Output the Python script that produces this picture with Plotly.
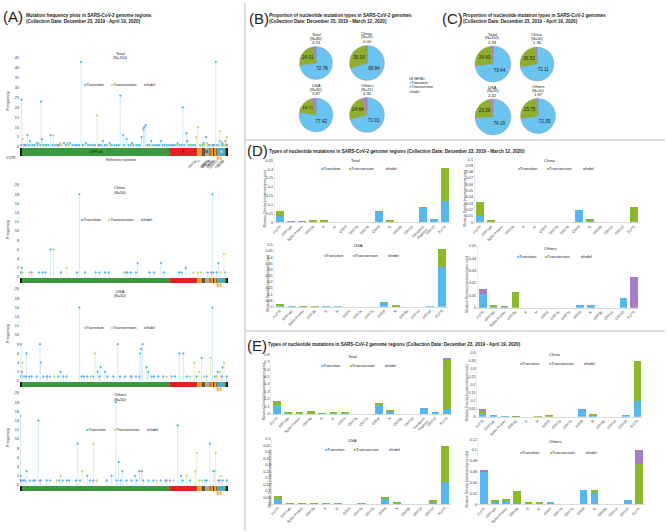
import plotly.graph_objects as go

W, H = 667, 532
FONT = "Liberation Sans, Arial, Helvetica, sans-serif"

# ====================== DATA ======================
mut_types = ["Transition", "Transversion", "Indel"]

genome_len = 29903
gene_names = ["5'UTR", "ORF1ab", "S", "ORF3a", "E", "M", "ORF6", "ORF7a", "ORF7b", "ORF8", "N", "ORF10", "3'UTR"]
gene_starts = [1, 266, 21563, 25393, 26245, 26523, 27202, 27394, 27756, 27894, 28274, 29558, 29675]
gene_ends = [265, 21555, 25384, 26220, 26472, 27191, 27387, 27759, 27887, 28259, 29533, 29674, 29903]
nested_names = ["ORF9b", "ORF14"]
nested_starts = [28284, 28734]
nested_ends = [28577, 28955]
small_gene_labels = ["ORF3a", "E", "ORF6", "ORF7a", "ORF7b", "ORF8", "ORF9b", "ORF14", "ORF10", "3'UTR"]

# Panel A: (genome position, frequency)
A_names = ["Total", "China", "USA", "Others"]
A_N = [150, 50, 50, 50]

A_total_ts = [(241, 24), (1059, 6), (1440, 3), (3037, 23), (3140, 4), (4402, 6), (8782, 43), (11916, 3),
              (14408, 26), (14805, 6), (15324, 4), (17470, 5), (17747, 9), (17858, 10), (18060, 11),
              (18877, 3), (20268, 3), (23403, 20), (23929, 7), (24034, 3), (26729, 5), (28144, 43),
              (28688, 3), (29095, 2), (29540, 3), (2416, 2), (6312, 2), (7200, 2), (9477, 2), (12880, 2),
              (22661, 2), (26400, 2), (16100, 2), (180, 1), (490, 1), (700, 1), (850, 1), (1300, 1),
              (1820, 1), (2100, 1), (2580, 1), (2900, 1), (3330, 1), (3600, 1), (3800, 1), (4100, 1),
              (4650, 1), (5000, 1), (5380, 1), (5600, 1), (5900, 1), (6600, 1), (6900, 1), (7540, 1),
              (7900, 1), (8200, 1), (8500, 1), (9000, 1), (9800, 1), (10100, 1), (10500, 1), (10800, 1),
              (11400, 1), (11700, 1), (12200, 1), (12500, 1), (13200, 1), (13600, 1), (13900, 1),
              (14200, 1), (15000, 1), (15600, 1), (15900, 1), (16300, 1), (16700, 1), (17000, 1),
              (17200, 1), (18300, 1), (18600, 1), (19100, 1), (19400, 1), (19700, 1), (20000, 1),
              (20500, 1), (20800, 1), (21100, 1), (21400, 1), (21700, 1), (22000, 1), (22300, 1),
              (22900, 1), (23200, 1), (23600, 1), (24300, 1), (24600, 1), (24900, 1), (25200, 1),
              (25900, 1), (26300, 1), (27000, 1), (27300, 1), (27600, 1), (27900, 1), (28300, 1),
              (28500, 1), (28900, 1), (29200, 1), (29650, 1)]
A_total_tv = [(386, 4), (4800, 6), (11083, 16), (25563, 10), (25350, 5), (28750, 8), (28850, 3), (29717, 5),
              (2700, 2), (5800, 2), (6800, 2), (26900, 2), (600, 1), (1600, 1), (3500, 1), (5200, 1),
              (7000, 1), (9300, 1), (10300, 1), (13000, 1), (16000, 1), (19000, 1), (21200, 1),
              (22500, 1), (24500, 1), (26000, 1), (26500, 1), (27500, 1), (28400, 1), (29300, 1)]
A_total_in = [(700, 1), (5500, 1), (11288, 1), (21990, 1), (27848, 1), (29750, 1)]

A_china_ts = [(241, 2), (4402, 6), (8531, 18), (16920, 3), (20280, 3), (23830, 2), (27656, 18), (28520, 3),
              (100, 1), (2732, 1), (3211, 1), (3642, 1), (5895, 1), (8196, 1), (9346, 1), (10880, 1),
              (11407, 1), (12222, 1), (12749, 1), (15193, 1), (15480, 1), (15960, 1), (16678, 1),
              (18596, 1), (19267, 1), (20705, 1), (22862, 1), (23246, 1), (26984, 1), (27799, 1),
              (28278, 1), (29476, 1)]
A_china_tv = [(4800, 6), (6710, 2), (29330, 5), (1342, 1), (24923, 1), (25546, 1), (26025, 1), (28853, 1),
              (14954, 1), (383, 1)]
A_china_in = [(1677, 1), (27500, 1)]

A_usa_ts = [(144, 8), (959, 6), (2876, 8), (2972, 4), (5847, 2), (8531, 16), (11168, 2), (11599, 3),
            (12222, 2), (14043, 8), (17255, 6), (17398, 7), (17638, 8), (18213, 3), (18453, 2), (22911, 6),
            (23486, 6), (26122, 5), (27656, 16), (28422, 2), (29141, 3), (100, 1), (575, 1), (863, 1),
            (1342, 1), (1678, 1), (2397, 1), (3355, 1), (3834, 1), (4314, 1), (5512, 1), (6231, 1),
            (6710, 1), (8867, 1), (9203, 1), (9682, 1), (10545, 1), (11407, 1), (12558, 1), (13420, 1),
            (14379, 1), (15098, 1), (15961, 1), (16680, 1), (17159, 1), (18932, 1), (19268, 1),
            (19891, 1), (20610, 1), (21808, 1), (22287, 1), (23965, 1), (25403, 1), (26841, 1),
            (28039, 1), (29716, 1)]
A_usa_tv = [(383, 4), (10784, 6), (25067, 4), (25738, 2), (27416, 5), (28758, 2), (29333, 4), (4937, 1),
            (10161, 1), (21089, 1), (24444, 1), (26457, 1), (28278, 1)]
A_usa_in = [(240, 2), (3900, 1), (16000, 1), (29000, 1)]

A_others_ts = [(50, 15), (100, 2), (959, 3), (2636, 14), (8292, 9), (9682, 2), (13181, 2), (13804, 18),
               (14187, 5), (14715, 3), (16536, 2), (17159, 3), (17494, 3), (22671, 13), (23150, 2),
               (27320, 9), (27799, 3), (28039, 3), (240, 1), (479, 1), (719, 1), (1438, 1), (1917, 1),
               (2157, 1), (2972, 1), (3834, 1), (4314, 1), (5656, 1), (6135, 1), (6710, 1), (7094, 1),
               (8052, 1), (8627, 1), (10065, 1), (12462, 1), (13900, 1), (14475, 1), (15338, 1),
               (16057, 1), (16776, 1), (17734, 1), (18453, 1), (19172, 1), (20226, 1), (21089, 1),
               (23390, 1), (24444, 1), (26601, 1), (26841, 1), (28758, 1), (29141, 1), (29716, 1)]
A_others_tv = [(5847, 2), (8963, 3), (10545, 9), (23965, 2), (25163, 3), (25403, 7), (28135, 7), (28902, 2),
               (5272, 1), (11024, 1), (19651, 1), (22048, 1), (25786, 1), (26122, 1)]
A_others_in = [(60, 1), (2876, 1), (10545, 1), (20945, 1), (21569, 1), (28518, 1)]

# Panels B and C: percentages (Transition, Transversion, Indel)
pie_names = ["Total", "China", "USA", "Others"]
B_N = [80, 26, 30, 21]
B_total = [72.76, 24.01, 3.23]
B_china = [69.84, 30.16, 0.00]
B_usa = [77.42, 18.71, 3.87]
B_others = [71.01, 24.64, 4.35]
C_N = [150, 50, 50, 50]
C_total = [73.44, 24.63, 1.93]
C_china = [72.11, 26.53, 1.36]
C_usa = [74.19, 23.39, 2.42]
C_others = [72.39, 25.75, 1.87]

# Panels D and E: mutation density per genome region
cats16 = ["5'UTR", "ORF1ab", "Spike Protein", "ORF3a", "E", "M", "ORF6", "ORF7a", "ORF7b", "ORF8", "N",
          "ORF9b", "ORF14", "Intergenic<br>Regions", "ORF10", "3'UTR"]
cats15 = ["5'UTR", "ORF1ab", "Spike Protein", "ORF3a", "E", "M", "ORF6", "ORF7a", "ORF7b", "ORF8", "N",
          "ORF9b", "ORF14", "ORF10", "3'UTR"]

D_total_ts = [0.038, 0.005, 0.004, 0.004, 0.010, 0.003, 0, 0, 0, 0.063, 0.010, 0, 0, 0.085, 0.018, 0.120]
D_total_tv = [0.026, 0.001, 0.001, 0.008, 0.002, 0, 0, 0, 0, 0.002, 0.004, 0, 0, 0.002, 0, 0.190]
D_total_in = [0, 0, 0, 0, 0, 0, 0, 0, 0, 0, 0, 0, 0, 0, 0, 0]
D_china_ts = [0.010, 0.001, 0, 0, 0, 0, 0, 0, 0, 0.020, 0.003, 0, 0, 0, 0]
D_china_tv = [0.023, 0.001, 0, 0, 0, 0, 0, 0, 0, 0, 0.001, 0, 0, 0, 0.025]
D_china_in = [0, 0, 0, 0, 0, 0, 0, 0, 0, 0, 0, 0, 0, 0, 0]
D_usa_ts = [0.010, 0.003, 0.002, 0, 0.004, 0.002, 0, 0, 0, 0.030, 0.005, 0, 0, 0.004, 0.320]
D_usa_tv = [0.004, 0, 0.001, 0.003, 0, 0, 0, 0, 0, 0.006, 0.002, 0, 0, 0, 0.150]
D_usa_in = [0, 0, 0, 0, 0, 0, 0, 0, 0, 0, 0, 0, 0, 0, 0]
D_others_ts = [0.011, 0.0012, 0.0006, 0, 0, 0, 0, 0, 0, 0.0025, 0.0022, 0, 0, 0.008, 0]
D_others_tv = [0, 0.0006, 0.0004, 0.013, 0, 0, 0, 0, 0, 0, 0, 0, 0, 0, 0]
D_others_in = [0.004, 0, 0, 0, 0, 0, 0, 0, 0, 0, 0, 0, 0, 0, 0.025]

E_total_ts = [0.120, 0.012, 0.013, 0.005, 0.008, 0.015, 0.012, 0, 0, 0.120, 0.025, 0, 0, 0.075, 0.015, 0.070]
E_total_tv = [0.040, 0.003, 0.002, 0.030, 0, 0.002, 0.002, 0, 0, 0.015, 0.015, 0, 0, 0, 0, 0.650]
E_total_in = [0.010, 0, 0, 0, 0, 0, 0, 0, 0, 0, 0, 0, 0, 0, 0, 0.030]
E_china_ts = [0.015, 0.003, 0.002, 0.001, 0, 0, 0, 0, 0, 0.050, 0.008, 0, 0, 0.010, 0.100]
E_china_tv = [0.020, 0, 0, 0.001, 0, 0.002, 0.005, 0, 0, 0, 0.002, 0, 0, 0, 0.245]
E_china_in = [0.005, 0, 0, 0, 0, 0, 0, 0, 0, 0, 0, 0, 0, 0, 0]
E_usa_ts = [0.040, 0.005, 0.003, 0, 0.004, 0.006, 0, 0.002, 0, 0.045, 0.008, 0, 0, 0.010, 0.170]
E_usa_tv = [0.020, 0.001, 0.001, 0.005, 0, 0, 0, 0, 0, 0.012, 0.002, 0, 0, 0.020, 0.280]
E_usa_in = [0, 0, 0, 0, 0, 0, 0, 0, 0, 0, 0, 0, 0, 0, 0]
E_others_ts = [0.059, 0.005, 0.006, 0.002, 0, 0.002, 0.004, 0, 0, 0.026, 0.020, 0, 0, 0.008, 0]
E_others_tv = [0, 0.002, 0.003, 0.023, 0.003, 0.001, 0, 0, 0, 0, 0.007, 0, 0, 0, 0.075]
E_others_in = [0.004, 0, 0, 0, 0, 0, 0, 0, 0, 0, 0, 0, 0, 0, 0.025]

# ====================== STYLE ======================
C_TS, C_TS_STEM = "#4fb5ee", "#cfe7f8"
C_TV, C_TV_STEM = "#c3d46c", "#e6edc6"
C_IN, C_IN_STEM = "#a58ad8", "#e0d6f3"
BAR_C = ["#56b7ee", "#8db72d", "#a77dc5"]
PIE_C = ["#6bc3f0", "#8eaf2e", "#b47dc6"]
gene_colors = {"5'UTR": "#111111", "ORF1ab": "#3b9a3f", "S": "#e41f26", "ORF3a": "#f7941d",
               "E": "#555555", "M": "#a9a994", "ORF6": "#f7941d", "ORF7a": "#f7941d", "ORF7b": "#3a3a3a",
               "ORF8": "#f7941d", "N": "#4bacc6", "ORF10": "#f7941d", "3'UTR": "#111111"}

# ====================== BUILD ======================
fig = go.Figure()
annotations, shapes = [], []
layout = dict(width=W, height=H, margin=dict(l=0, r=0, t=0, b=0, pad=0), autosize=False,
              paper_bgcolor="white", plot_bgcolor="white", showlegend=False,
              font=dict(family=FONT, size=4, color="#333333"), barmode="stack", bargap=0.32)


def px_x(px):
    return px / W


def px_y(py):
    return 1 - py / H


def ann(x, y, text, size=4.2, color="#222222", xanchor="center", yanchor="middle", bold=False,
        angle=0, xref="paper", align="center"):
    annotations.append(dict(
        x=px_x(x) if xref == "paper" else x, y=px_y(y), xref=xref, yref="paper",
        text=("<b>%s</b>" % text) if bold else text, showarrow=False, align=align,
        font=dict(size=size, color=color, family=FONT), xanchor=xanchor, yanchor=yanchor,
        textangle=angle, borderpad=0))


def legend_row(y, xs, size=4.0, sym="■", colors=(C_TS, C_TV, C_IN)):
    for x, lab, col in zip(xs, mut_types, colors):
        ann(x, y, "<span style='color:%s'>%s</span>%s" % (col, sym, lab), size=size, xanchor="left")


def line(x0, y0, x1, y1, color="#d3d3d3", width=1.5):
    shapes.append(dict(type="line", xref="paper", yref="paper", x0=px_x(x0), y0=px_y(y0),
                       x1=px_x(x1), y1=px_y(y1), line=dict(color=color, width=width)))


def ax_names(k):
    return ("xaxis" if k == 1 else "xaxis%d" % k, "yaxis" if k == 1 else "yaxis%d" % k,
            "x" if k == 1 else "x%d" % k, "y" if k == 1 else "y%d" % k)


# ---------- Panel A : stem plots ----------
def stem_panel(k, name, n, ts, tv, ind, y0, yref_px, yref_val, ymax, dtick, bar_h, title_y, leg_y,
               leg_xs, full_labels):
    xa, ya, xr, yr = ax_names(k)
    ppu = (y0 - yref_px) / yref_val
    x0, x1 = 20, 228
    ytop = y0 - ymax * ppu
    layout[xa] = dict(domain=[px_x(x0), px_x(x1)], range=[0, genome_len], anchor=yr, showgrid=False,
                      zeroline=False, showticklabels=False, showline=False, ticks="", automargin=False)
    layout[ya] = dict(domain=[px_y(y0 + 1), px_y(ytop)], range=[-1 / ppu, ymax], anchor=xr,
                      showgrid=False, zeroline=False, dtick=dtick, tick0=0, showline=False, ticks="",
                      automargin=False, tickfont=dict(size=3.8, color="#333"))
    ann(8, (y0 + ytop) / 2, "Frequency", size=4, color="#333", angle=-90)
    for pts, col, stem in ((ts, C_TS, C_TS_STEM), (tv, C_TV, C_TV_STEM), (ind, C_IN, C_IN_STEM)):
        xs = [p for p, f in pts]
        fs = [f for p, f in pts]
        fig.add_trace(go.Scatter(
            x=xs, y=fs, mode="markers", xaxis=xr, yaxis=yr, hoverinfo="x+y",
            marker=dict(color=col, size=2.1, symbol="diamond"),
            error_y=dict(type="data", symmetric=False, array=[0] * len(fs), arrayminus=fs,
                         width=0, thickness=0.9, color=stem)))
    # genome bar
    top = y0 + 1
    shapes.append(dict(type="rect", xref=xr, yref="paper", x0=0, x1=genome_len, y0=px_y(top + bar_h),
                       y1=px_y(top), fillcolor="#111111", line=dict(width=0), layer="above"))
    for g, s, e in zip(gene_names, gene_starts, gene_ends):
        shapes.append(dict(type="rect", xref=xr, yref="paper", x0=s, x1=e, y0=px_y(top + bar_h),
                           y1=px_y(top), fillcolor=gene_colors[g], line=dict(width=0), layer="above"))
    for g, s, e in zip(nested_names, nested_starts, nested_ends):
        shapes.append(dict(type="rect", xref=xr, yref="paper", x0=s, x1=e, y0=px_y(top + bar_h + 4),
                           y1=px_y(top + bar_h), fillcolor="#f7941d", line=dict(color="#ffffff", width=0.3),
                           layer="above"))
    ann(120, title_y, name, size=4.2)
    ann(120, title_y + 5, "(N=%d)" % n, size=3.8)
    legend_row(leg_y, leg_xs, size=4.0)
    if full_labels:
        mid = lambda g: (gene_starts[gene_names.index(g)] + gene_ends[gene_names.index(g)]) / 2
        ann(mid("ORF1ab"), top + bar_h / 2, "ORF1ab", size=3.6, color="#111", xref=xr)
        ann(mid("S"), top + bar_h / 2, "S", size=3.6, color="#111", xref=xr)
        ann(mid("M"), top + bar_h / 2, "M", size=3.6, color="#111", xref=xr)
        ann(mid("N"), top + bar_h / 2, "N", size=3.6, color="#fff", xref=xr)
        ann(11, top + bar_h + 2.5, "5'UTR", size=3.4)
        ann(121, top + bar_h + 4, "Reference position", size=3.6)
        for g in small_gene_labels:
            if g in gene_names:
                i = gene_names.index(g)
                c = (gene_starts[i] + gene_ends[i]) / 2
            else:
                i = nested_names.index(g)
                c = (nested_starts[i] + nested_ends[i]) / 2
            ann(c, top + bar_h + 1.5, g, size=3.3, color="#333", xref=xr, xanchor="right",
                yanchor="top", angle=-45)


stem_panel(1, "Total", A_N[0], A_total_ts, A_total_tv, A_total_in, 147, 58, 45, 46, 5, 8, 53, 84,
           (83, 110, 143), True)
stem_panel(2, "China", A_N[1], A_china_ts, A_china_tv, A_china_in, 277, 185, 20, 20.5, 2, 5, 188, 220,
           (80, 107, 140), False)
stem_panel(3, "USA", A_N[2], A_usa_ts, A_usa_tv, A_usa_in, 381, 289, 20, 20.5, 2, 5, 291, 327,
           (83, 110, 143), False)
stem_panel(4, "Others", A_N[3], A_others_ts, A_others_tv, A_others_in, 485, 393, 20, 20.5, 2, 5, 395, 429,
           (85, 113, 146), False)

ann(2, 17, "(A)", size=15, color="#222", xanchor="left")
ann(25, 18.5, "Mutation frequency plots in SARS-CoV-2 genome regions<br>(Collection Date: December 23, 2019 - April 19, 2020)",
    size=4.6, bold=True, xanchor="left", align="left")


# ---------- Panels B and C : pies ----------
def pie(vals, n, name, cx, cy, r):
    fig.add_trace(go.Pie(
        values=vals, labels=mut_types, sort=False, direction="clockwise", rotation=0,
        domain=dict(x=[px_x(cx - r), px_x(cx + r)], y=[px_y(cy + r), px_y(cy - r)]),
        marker=dict(colors=PIE_C, line=dict(color="#8a8a8a", width=0.3)),
        text=["%.2f" % vals[0], "%.2f" % vals[1], ""], textinfo="text", textposition="inside",
        insidetextorientation="horizontal", textfont=dict(size=4.6, color="#1a1a1a", family=FONT),
        hoverinfo="label+value", showlegend=False))
    ann(cx, cy - r - 12, name, size=4.2)
    ann(cx, cy - r - 8, "(N=%d)" % n, size=3.8)
    ann(cx, cy - r - 4, "%.2f" % vals[2], size=4.2)


pie(B_total, B_N[0], "Total", 316, 63, 16.5)
pie(B_china, B_N[1], "China", 367, 63, 17.5)
pie(B_usa, B_N[2], "USA", 316, 115, 17)
pie(B_others, B_N[3], "Others", 367, 115, 17.5)
pie(C_total, C_N[0], "Total", 493, 64, 18)
pie(C_china, C_N[1], "China", 537, 64, 17)
pie(C_usa, C_N[2], "USA", 493, 117, 18)
pie(C_others, C_N[3], "Others", 538, 116, 17.5)

ann(408, 79, "LEGEND:", size=3.8, xanchor="left")
for yy, lab, col in zip((83, 87, 92), mut_types, PIE_C):
    ann(408, yy, "<span style='color:%s'>●</span>%s" % (col, lab), size=3.8, xanchor="left")

ann(248, 19, "(B)", size=15, color="#222", xanchor="left")
ann(268, 18.5, "Proportion of nucleotide mutation types in SARS-CoV-2 genomes<br>(Collection Date: December 23, 2019 - March 12, 2020)",
    size=4.6, bold=True, xanchor="left", align="left")
ann(441, 19, "(C)", size=15, color="#222", xanchor="left")
ann(462, 18.5, "Proportion of nucleotide mutation types in SARS-CoV-2 genomes<br>(Collection Date: December 23, 2019 - April 19, 2020)",
    size=4.6, bold=True, xanchor="left", align="left")


# ---------- Panels D and E : stacked bars ----------
def bar_panel(k, cats, ts, tv, ind, first_px, last_px, y0, ytop, ymax, dtick, title, tx, ty, leg_y, leg_xs,
              ytitle_x):
    xa, ya, xr, yr = ax_names(k)
    nc = len(cats)
    s = (last_px - first_px) / (nc - 1)
    layout[xa] = dict(domain=[px_x(first_px - s / 2), px_x(last_px + s / 2)], anchor=yr, type="category",
                      categoryorder="array", categoryarray=cats, range=[-0.5, nc - 0.5],
                      showgrid=False, zeroline=False, showline=True, linecolor="#d9d9d9", linewidth=0.8,
                      ticks="", tickangle=-45, tickfont=dict(size=3.5, color="#333"), automargin=False)
    layout[ya] = dict(domain=[px_y(y0), px_y(ytop)], anchor=xr, range=[0, ymax], dtick=dtick, tick0=0,
                      showgrid=False, zeroline=False, showline=True, linecolor="#ececec", linewidth=0.6,
                      ticks="", tickfont=dict(size=3.7, color="#333"), automargin=False)
    ann(ytitle_x, (y0 + ytop) / 2 + 8, "Mutation Density (mutations/gene size)", size=3.3, color="#333",
        angle=-90)
    for vals, col in zip((ts, tv, ind), BAR_C):
        fig.add_trace(go.Bar(x=cats, y=vals, xaxis=xr, yaxis=yr, marker=dict(color=col, line=dict(width=0)),
                             hoverinfo="x+y"))
    ann(tx, ty, title, size=4.2)
    legend_row(leg_y, leg_xs, size=3.9, sym="■", colors=BAR_C)


bar_panel(5, cats16, D_total_ts, D_total_tv, D_total_in, 280, 445, 222.3, 160.5, 0.35, 0.05,
          "Total", 355, 161, 168, (320, 348, 385), 265)
bar_panel(6, cats15, D_china_ts, D_china_tv, D_china_in, 480, 634, 222.3, 159.3, 0.1, 0.01,
          "China", 550, 160, 168, (517, 546, 582), 465)
bar_panel(7, cats15, D_usa_ts, D_usa_tv, D_usa_in, 280, 442, 306.7, 245, 0.5, 0.05,
          "USA", 358, 246, 255.7, (323, 352, 387), 268)
bar_panel(8, cats15, D_others_ts, D_others_tv, D_others_in, 483, 634, 307.7, 246, 0.05, 0.01,
          "Others", 550, 248, 256.7, (516, 544, 580), 467)
bar_panel(9, cats16, E_total_ts, E_total_tv, E_total_in, 276.7, 446.7, 414, 354.3, 0.8, 0.1,
          "Total", 352, 356, 365, (320, 349, 384), 264)
bar_panel(10, cats15, E_china_ts, E_china_tv, E_china_in, 482.7, 637.3, 416.7, 352.3, 0.4, 0.05,
          "China", 555, 354, 363, (519, 548, 583), 466)
bar_panel(11, cats15, E_usa_ts, E_usa_tv, E_usa_in, 278, 445, 504, 439, 0.5, 0.05,
          "USA", 352, 440, 449, (324, 353, 388), 269)
bar_panel(12, cats15, E_others_ts, E_others_tv, E_others_in, 484, 639, 504.3, 439.3, 0.12, 0.02,
          "Others", 555, 441, 452, (519, 549, 585), 467)

ann(246, 150.5, "(D)", size=15, color="#222", xanchor="left")
ann(268, 151, "Types of nucleotide mutations in SARS-CoV-2 genome regions (Collection Date: December 23, 2019 - March 12, 2020)",
    size=4.6, bold=True, xanchor="left")
ann(246, 345.5, "(E)", size=15, color="#222", xanchor="left")
ann(267, 344, "Types of nucleotide mutations in SARS-CoV-2 genome regions (Collection Date: December 23, 2019 - April 19, 2020)",
    size=4.6, bold=True, xanchor="left")

# panel separators
line(245, 3, 245, 531)
line(245, 140, 665, 140)
line(245, 331, 665, 331)

layout["annotations"] = annotations
layout["shapes"] = shapes
fig.update_layout(**layout)
fig.write_html("out.html", config={"displayModeBar": False},
               post_script="document.body.style.margin='0px';document.body.style.overflow='hidden';")
